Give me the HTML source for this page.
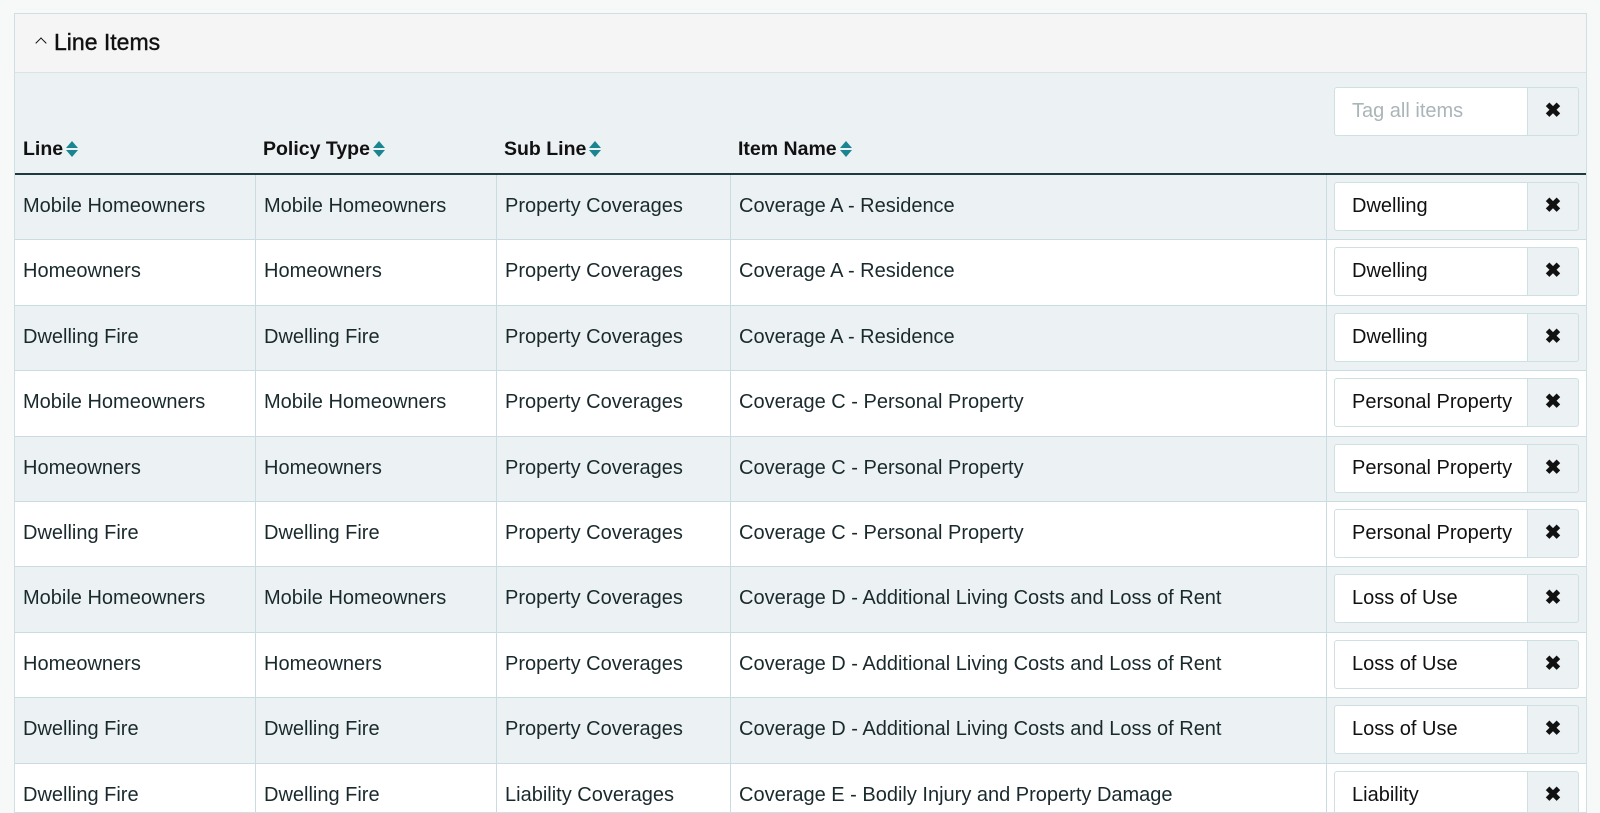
<!DOCTYPE html>
<html><head><meta charset="utf-8">
<style>
*{box-sizing:border-box;margin:0;padding:0}
body{width:1600px;height:801px;overflow:hidden;background:#f7f9f9;font-family:"Liberation Sans",sans-serif;color:#1a2a2c;position:relative}
.card{position:absolute;left:14px;top:13px;width:1573px;height:800px;border:1px solid #cfe0e3;background:#ecf1f4;overflow:hidden}
.title{position:absolute;left:0;top:0;width:100%;height:59px;background:#f5f5f5;border-bottom:1px solid #d9e3e5}
.title span{position:absolute;left:39px;top:15px;font-size:23px;color:#111;-webkit-text-stroke:0.4px #111}
.title i{position:absolute;left:22px;top:25px;width:8px;height:8px;border-left:1.5px solid #111;border-top:1.5px solid #111;transform:rotate(45deg)}
.hdr{position:absolute;top:124px;font-size:19.5px;font-weight:bold;color:#111}
.sort{display:inline-block;position:relative;width:12px;height:16px;vertical-align:-2px;margin-left:3px}
.sort:before{content:"";position:absolute;left:0;top:0;border-left:6px solid transparent;border-right:6px solid transparent;border-bottom:7px solid #1a8591}
.sort:after{content:"";position:absolute;left:0;top:9px;border-left:6px solid transparent;border-right:6px solid transparent;border-top:7px solid #1a8591}
.hline{position:absolute;left:0;top:159px;width:100%;height:2px;background:#1e3a40}
.row{position:absolute;left:0;width:100%;border-bottom:1px solid #c9dce1}
.row.o{background:#ecf1f4}.row.e{background:#fff}
.c{position:absolute;top:0;height:100%;border-left:1px solid #c9dce1;font-size:20px;line-height:62px;padding-left:8px;white-space:nowrap}
.inp{position:absolute;left:1319px;width:194px;height:49px;background:#fff;border:1px solid #cfe0e3;border-radius:3px 0 0 3px;font-size:20px;line-height:46px;padding-left:17px;overflow:hidden;white-space:nowrap;color:#111}
.btn{position:absolute;left:1512px;width:52px;height:49px;background:#ecf1f4;border:1px solid #cfe0e3;border-radius:0 3px 3px 0;text-align:center;line-height:47px;font-size:20px;font-weight:bold;color:#111}
</style></head><body>
<div class="card">
<div class="title"><i></i><span>Line Items</span></div>
<div class="inp" style="top:73px;color:#aab5b8">Tag all items</div><div class="btn" style="top:73px">✖</div>
<div class="hdr" style="left:8px">Line<span class="sort"></span></div>
<div class="hdr" style="left:248px">Policy Type<span class="sort"></span></div>
<div class="hdr" style="left:489px">Sub Line<span class="sort"></span></div>
<div class="hdr" style="left:723px">Item Name<span class="sort"></span></div>
<div class="hline"></div>
<div id="rows"></div>
</div>
<script>
var d=[["Mobile Homeowners","Mobile Homeowners","Property Coverages","Coverage A - Residence","Dwelling"],
["Homeowners","Homeowners","Property Coverages","Coverage A - Residence","Dwelling"],
["Dwelling Fire","Dwelling Fire","Property Coverages","Coverage A - Residence","Dwelling"],
["Mobile Homeowners","Mobile Homeowners","Property Coverages","Coverage C - Personal Property","Personal Property"],
["Homeowners","Homeowners","Property Coverages","Coverage C - Personal Property","Personal Property"],
["Dwelling Fire","Dwelling Fire","Property Coverages","Coverage C - Personal Property","Personal Property"],
["Mobile Homeowners","Mobile Homeowners","Property Coverages","Coverage D - Additional Living Costs and Loss of Rent","Loss of Use"],
["Homeowners","Homeowners","Property Coverages","Coverage D - Additional Living Costs and Loss of Rent","Loss of Use"],
["Dwelling Fire","Dwelling Fire","Property Coverages","Coverage D - Additional Living Costs and Loss of Rent","Loss of Use"],
["Dwelling Fire","Dwelling Fire","Liability Coverages","Coverage E - Bodily Injury and Property Damage","Liability"]];
var h="",L=[0,240,481,715,1311];
d.forEach(function(r,i){var t=Math.round(161+i*65.4),n=Math.round(161+(i+1)*65.4);
h+='<div class="row '+(i%2?'e':'o')+'" style="top:'+t+'px;height:'+(n-t)+'px">';
for(var j=0;j<4;j++)h+='<div class="c" style="left:'+L[j]+'px;'+(j==0?'border-left:none':'')+'">'+r[j]+'</div>';
h+='<div class="c" style="left:1311px;width:262px"></div>';
h+='<div class="inp" style="top:7px">'+r[4]+'</div><div class="btn" style="top:7px">✖</div></div>';});
document.getElementById("rows").innerHTML=h;
</script>
</body></html>
